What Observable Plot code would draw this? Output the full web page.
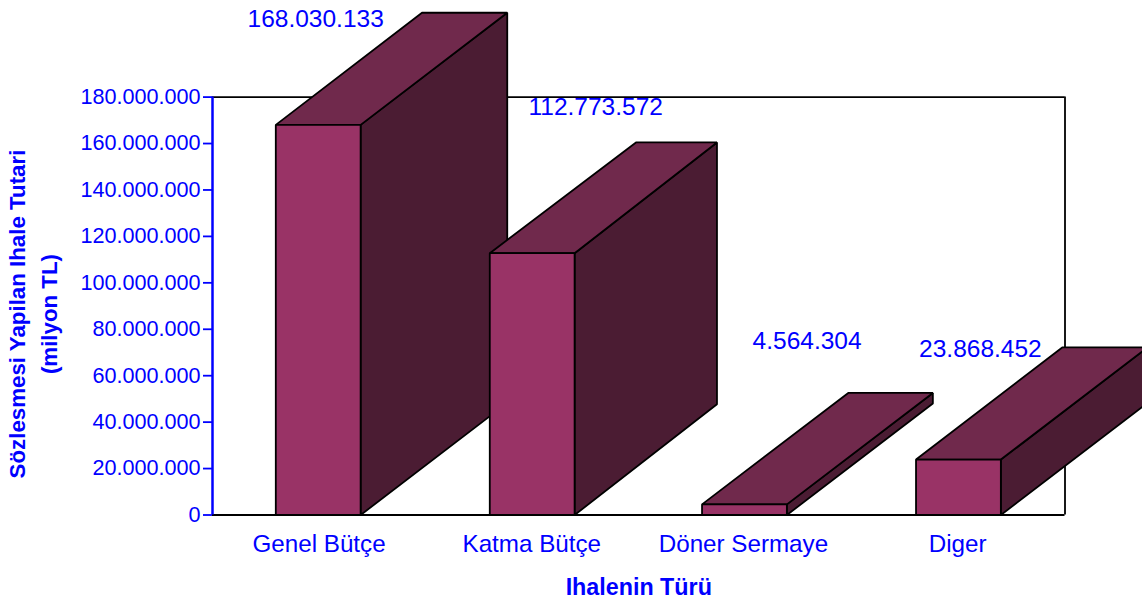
<!DOCTYPE html>
<html>
<head>
<meta charset="utf-8">
<script src="https://cdn.jsdelivr.net/npm/d3@7"></script>
<script src="https://cdn.jsdelivr.net/npm/@observablehq/plot@0.6"></script>
<style>
html,body{margin:0;padding:0;background:#fff;overflow:hidden}
svg{display:block}
</style>
</head>
<body>
<div id="chart"></div>
<script>
const categories = ["Genel Bütçe", "Katma Bütçe", "Döner Sermaye", "Diger"];
const values = [168030133, 112773572, 4564304, 23868452];
const slots = [0.496, 1.5, 2.496, 3.5];
const tickSlots = [0.5, 1.498, 2.491, 3.496];
const labelX = [0.484, 1.798, 2.79, 3.603];
const labelY = [213500000, 175500000, 74900000, 71400000];
const yTicks = [0, 20e6, 40e6, 60e6, 80e6, 100e6, 120e6, 140e6, 160e6, 180e6];
const backWidths = [0.4, 0.38, 0.397, 0.4];
const depthsY = [48300000, 47700000, 48000000, 48300000];

const barWidth = 0.398, depthX = 0.69;
const blue = "#0000ff";
const font = "'Liberation Sans', Arial, sans-serif";
const dotted = d => d3.format(",")(d).replace(/,/g, ".");

const corners = i => {
  const c = slots[i], v = values[i], l = c - barWidth / 2, r = c + barWidth / 2;
  const bl = l + depthX - 0.004, br = bl + backWidths[i], d = depthsY[i];
  return {
    side: [[r, 0], [br, d], [br, v + d], [r, v]],
    top: [[l, v], [r, v], [br, v + d], [bl, v + d]],
    front: [[l, 0], [r, 0], [r, v], [l, v]]
  };
};
const faceFill = {side: "#4b1c33", top: "#70294c", front: "#993366"};

const face = (name, i) => Plot.line(corners(i)[name], {
  x: "0", y: "1", curve: "linear-closed", fill: faceFill[name],
  stroke: "#000", strokeWidth: 1.8, strokeLinejoin: "miter"
});

const chart = Plot.plot({
  width: 1142, height: 603,
  marginLeft: 212, marginRight: 77.5, marginTop: 96.6, marginBottom: 88.5,
  style: {fontFamily: font, background: "#fff"},
  x: {type: "linear", domain: [0, 4]},
  y: {domain: [0, 180000000]},
  marks: [
    Plot.ruleY([180000000], {stroke: "#000", strokeWidth: 1.8}),
    Plot.ruleX([4], {stroke: "#000", strokeWidth: 1.8}),
    slots.flatMap((_, i) => ["side", "top", "front"].map(n => face(n, i))),
    Plot.ruleY([0], {stroke: "#000", strokeWidth: 2.2}),
    Plot.ruleX([0], {stroke: blue, strokeWidth: 2.5}),
    Plot.axisY({ticks: yTicks, tickFormat: dotted, label: null, color: blue, tickSize: 9, tickPadding: 3, fontSize: 21.6, strokeWidth: 1.8}),
    Plot.axisX({ticks: tickSlots, tickFormat: d => categories[tickSlots.indexOf(d)], label: null, color: blue, tickSize: 0, tickPadding: 20, fontSize: 24.2}),
    Plot.text(values, {x: (_, i) => labelX[i], y: (_, i) => labelY[i], text: d => dotted(d), fill: blue, fontSize: 24.5}),
    Plot.text(["Ihalenin Türü"], {frameAnchor: "bottom", dy: 80, fill: blue, fontSize: 23.3, fontWeight: "bold"}),
    Plot.text(["Sözlesmesi Yapilan Ihale Tutari\n(milyon TL)"], {frameAnchor: "left", textAnchor: "middle", dx: -182, dy: 8, rotate: -90, fill: blue, fontSize: 22.3, fontWeight: "bold", lineHeight: 1.45})
  ]
});
document.getElementById("chart").append(chart);
</script>
</body>
</html>
